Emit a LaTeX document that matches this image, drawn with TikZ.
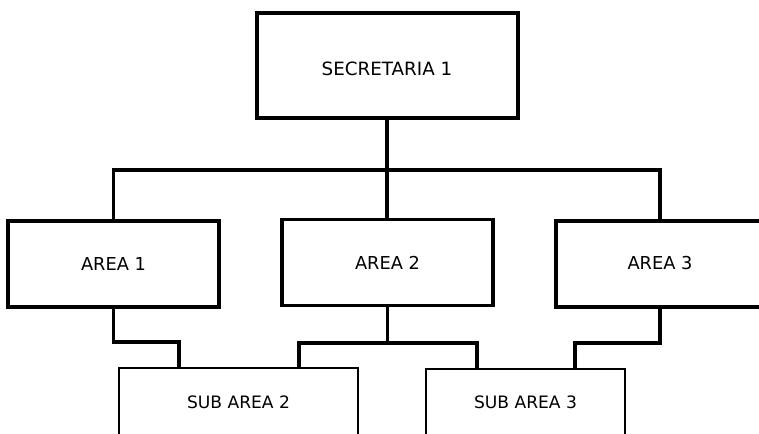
\documentclass[tikz,border=0pt]{standalone}
\usepackage{fontspec}
\setmainfont{DejaVu Sans}
\begin{document}
\begin{tikzpicture}[x=1pt,y=-1pt,
  box/.style={draw=black, fill=white, rectangle, inner sep=0pt, text=black,
              font=\fontsize{17.8}{20}\selectfont},
  topbox/.style={box, line width=4pt, minimum width=261pt, minimum height=105pt,
                 font=\fontsize{18.3}{21}\selectfont, text height=20pt, text depth=0pt},
  areabox/.style={box, line width=3.2pt, minimum width=211pt, minimum height=86pt},
  subbox/.style={box, line width=2.4pt, font=\fontsize{17.1}{20}\selectfont},
  link/.style={line width=3.2pt, draw=black}]
\path[use as bounding box, clip] (0,0) rectangle (759,433);
\fill[white] (0,0) rectangle (759,433);

\node[topbox] (sec) at (387,65.5) {SECRETARIA 1};
\node[areabox] (a1) at (113.5,264) {AREA 1};
\node[areabox] (a2) at (387.5,262.5) {AREA 2};
\node[areabox, minimum width=208pt, text depth=3pt] (a3) at (660,264) {AREA 3};
\node[subbox, minimum width=239pt, minimum height=68pt] (s2) at (238.5,402) {SUB AREA 2};
\node[subbox, minimum width=199pt, minimum height=66pt] (s3) at (525.5,402) {SUB AREA 3};

% top level connectors
\coordinate (bar) at (387,170);
\draw[link] (a1.north) |- (bar) -| (a3.north);
\draw[link] (sec.south) -- (sec.south |- a2.north);

% lower connectors
\coordinate (k1) at (179,342);
\draw[link] (a1.south) |- (k1) -- (k1 |- s2.north);

\coordinate (k2l) at (299,343);
\coordinate (k2r) at (477,343);
\draw[link] (k2l |- s2.north) -- (k2l) -- (k2r) -- (k2r |- s3.north);
\draw[link] (a2.south) -- (a2.south |- k2l);

\coordinate (k3) at (575,343);
\draw[link] (a3.south) |- (k3) -- (k3 |- s3.north);
\end{tikzpicture}
\end{document}
